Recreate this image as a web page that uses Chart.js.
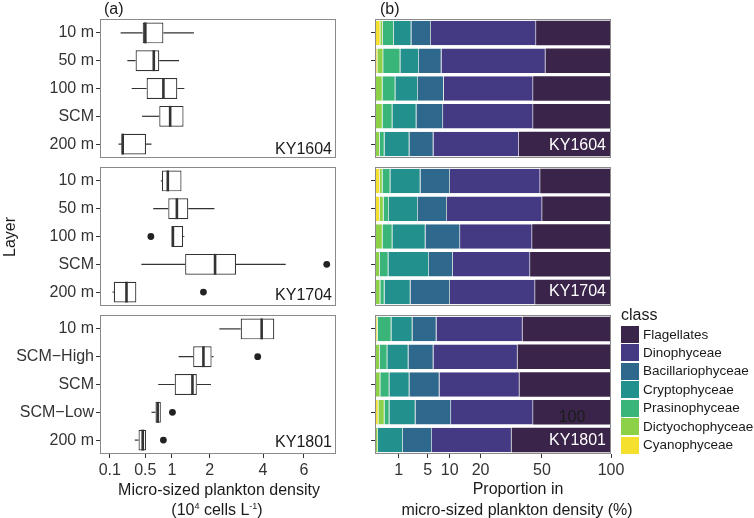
<!DOCTYPE html>
<html>
<head>
<meta charset="utf-8">
<script src="https://cdn.jsdelivr.net/npm/chart.js@4.4.1/dist/chart.umd.min.js"></script>
<style>
  body { margin: 0; background: #fff; }
  #wrap { position: relative; width: 754px; height: 518px; overflow: hidden; font-family: 'Liberation Sans', Arial, Helvetica, sans-serif; color: #1a1a1a; }
  canvas { position: absolute; left: 0; top: 0; }
  .t { position: absolute; white-space: nowrap; line-height: 1; font-size: 16px; }
  .key { position: absolute; width: 18px; height: 17px; }
</style>
</head>
<body>
<div id="wrap">
  <canvas id="a1" width="754" height="518"></canvas>
  <canvas id="a2" width="754" height="518"></canvas>
  <canvas id="a3" width="754" height="518"></canvas>
  <canvas id="b1" width="754" height="518"></canvas>
  <canvas id="b2" width="754" height="518"></canvas>
  <canvas id="b3" width="754" height="518"></canvas>
</div>
<script>
// layers per cruise
var layers1604 = ['10 m', '50 m', '100 m', 'SCM', '200 m'];
var layers1704 = ['10 m', '50 m', '100 m', 'SCM', '200 m'];
var layers1801 = ['10 m', 'SCM\u2212High', 'SCM', 'SCM\u2212Low', '200 m'];

// box stats: [lower whisker, q1, median, q3, upper whisker]  (10^4 cells/L)
var box1604 = [
    [0.19, 0.46, 0.50, 0.82, 1.54],
    [0.26, 0.36, 0.64, 0.74, 1.16],
    [0.31, 0.52, 0.82, 1.12, 1.29],
    [0.45, 0.74, 0.96, 1.27, 1.27],
    [0.17, 0.20, 0.21, 0.51, 0.60]
];
var box1704 = [
    [0.77, 0.79, 0.91, 1.22, 1.22],
    [0.63, 0.92, 1.11, 1.39, 2.15],
    [0.99, 0.99, 1.02, 1.26, 1.29],
    [0.44, 1.31, 2.17, 2.90, 5.06],
    [0.12, 0.13, 0.25, 0.37, 0.37]
];
var box1801 = [
    [2.31, 3.08, 3.94, 4.51, 4.51],
    [1.15, 1.52, 1.81, 2.06, 2.12],
    [0.72, 1.06, 1.50, 1.62, 2.04],
    [0.60, 0.67, 0.71, 0.77, 0.77],
    [0.35, 0.40, 0.46, 0.51, 0.51]
];

// outliers: [layer, value]
var out1604 = [];
var out1704 = [['100 m', 0.59], ['SCM', 7.29], ['200 m', 1.81]];
var out1801 = [['SCM\u2212High', 3.77], ['SCM\u2212Low', 1.01], ['200 m', 0.82]];

var densityTicks = [0.1, 0.5, 1, 2, 4, 6];
var propTicks = [1, 5, 10, 20, 50, 100];

// classes, stacked left to right
var classes = ['Cyanophyceae', 'Dictyochophyceae', 'Prasinophyceae', 'Cryptophyceae', 'Bacillariophyceae', 'Dinophyceae', 'Flagellates'];
var classColors = ['#f4e02d', '#8cd147', '#3ab57a', '#22908c', '#2f688d', '#443a84', '#3a2449'];

// proportions (%) per layer, in class order above
var prop1604 = [
    [0.05, 0.06, 0.53, 1.73, 3.26, 40.97, 53.40],
    [0.01, 0.11, 1.03, 2.32, 4.45, 44.28, 47.80],
    [0, 0.10, 0.64, 2.58, 5.16, 36.42, 55.10],
    [0, 0.10, 0.44, 2.53, 5.24, 36.59, 55.10],
    [0, 0.04, 0.12, 1.96, 4.00, 31.08, 62.80]
];
var prop1704 = [
    [0.04, 0.06, 0.32, 3.28, 6.40, 38.90, 51.00],
    [0.04, 0.09, 0.22, 2.97, 5.99, 40.89, 49.80],
    [0, 0.10, 0.44, 4.02, 8.43, 31.36, 55.65],
    [0, 0.04, 0.28, 4.91, 5.67, 32.30, 56.80],
    [0, 0.05, 0.11, 2.09, 7.85, 35.96, 53.94]
];
var prop1801 = [
    [0.01, 0.005, 0.465, 2.03, 4.26, 32.33, 60.90],
    [0, 0.04, 0.23, 1.73, 4.12, 30.38, 63.50],
    [0, 0.05, 0.32, 1.75, 5.33, 30.05, 62.50],
    [0.02, 0.14, 0.21, 2.56, 7.45, 34.52, 55.10],
    [0, 0.015, 0, 1.385, 4.43, 27.67, 66.50]
];

Chart.defaults.font.family = "'Liberation Sans', Arial, Helvetica, sans-serif";
Chart.defaults.font.size = 16;
Chart.defaults.color = '#333';

// square-root axis
class SqrtScale extends Chart.LinearScale {
    getPixelForValue(value) {
        if (value == null || isNaN(value)) return NaN;
        var a = Math.sqrt(Math.max(this.min, 0)), b = Math.sqrt(this.max);
        return this.getPixelForDecimal((Math.sqrt(Math.max(value, 0)) - a) / (b - a));
    }
    getValueForPixel(pixel) {
        var a = Math.sqrt(Math.max(this.min, 0)), b = Math.sqrt(this.max);
        var s = a + this.getDecimalForPixel(pixel) * (b - a);
        return s * s;
    }
}
SqrtScale.id = 'sqrt';
SqrtScale.defaults = Chart.LinearScale.defaults;
Chart.register(SqrtScale);

var frame = {
    id: 'frame',
    afterDatasetsDraw: function (chart) {
        var a = chart.chartArea, ctx = chart.ctx;
        ctx.save();
        ctx.strokeStyle = '#8a8a8a';
        ctx.lineWidth = 1;
        ctx.strokeRect(a.left + 0.5, a.top + 0.5, a.right - a.left - 1, a.bottom - a.top - 1);
        ctx.restore();
    }
};

function boxLines(rows) {
    return {
        id: 'boxLines',
        beforeDatasetsDraw: function (chart) {
            var x = chart.scales.x, y = chart.scales.y, ctx = chart.ctx;
            ctx.save();
            ctx.strokeStyle = '#333';
            ctx.lineWidth = 1.2;
            rows.forEach(function (r, i) {
                var py = y.getPixelForValue(i);
                ctx.beginPath();
                ctx.moveTo(x.getPixelForValue(r[0]), py);
                ctx.lineTo(x.getPixelForValue(r[1]), py);
                ctx.moveTo(x.getPixelForValue(r[3]), py);
                ctx.lineTo(x.getPixelForValue(r[4]), py);
                ctx.stroke();
            });
            ctx.restore();
        },
        afterDatasetsDraw: function (chart) {
            var x = chart.scales.x, y = chart.scales.y, ctx = chart.ctx;
            var bars = chart.getDatasetMeta(0).data;
            ctx.save();
            ctx.strokeStyle = '#333';
            ctx.lineWidth = 2.6;
            rows.forEach(function (r, i) {
                var py = y.getPixelForValue(i), h = bars[i].height / 2;
                var px = x.getPixelForValue(r[2]);
                ctx.beginPath();
                ctx.moveTo(px, py - h);
                ctx.lineTo(px, py + h);
                ctx.stroke();
            });
            ctx.restore();
        }
    };
}

function yAxis(labelsOn, width) {
    return {
        type: 'category',
        offset: true,
        border: { display: false },
        grid: { display: true, drawOnChartArea: false, offset: false, drawTicks: true, tickLength: 4, color: '#333' },
        ticks: { display: labelsOn, autoSkip: false, padding: 2, color: '#333', font: { size: 16 } },
        afterFit: function (s) { s.width = width; }
    };
}

function xAxis(showX, min, max, vals) {
    return {
        type: 'sqrt',
        min: min,
        max: max,
        bounds: 'data',
        display: showX,
        border: { display: false },
        grid: { display: true, drawOnChartArea: false, drawTicks: true, tickLength: 4, color: '#333' },
        ticks: { autoSkip: false, maxRotation: 0, padding: 3, color: '#333', font: { size: 16 },
            callback: function (v) { return String(v); } },
        afterBuildTicks: function (s) { s.ticks = vals.map(function (v) { return { value: v }; }); },
        afterFit: function (s) { s.height = showX ? 30 : 0; }
    };
}

function makeBox(id, layers, rows, outs, top, bottom, showX) {
    new Chart(document.getElementById(id), {
        type: 'bar',
        data: {
            labels: layers,
            datasets: [{
                type: 'bar',
                data: rows.map(function (r) { return [r[1], r[3]]; }),
                backgroundColor: '#ffffff',
                borderColor: '#333',
                borderWidth: 1.2,
                borderSkipped: false,
                barPercentage: 0.75,
                categoryPercentage: 1
            }, {
                type: 'scatter',
                indexAxis: 'y',
                data: outs.map(function (o) { return { x: o[1], y: o[0] }; }),
                pointRadius: 3.4,
                backgroundColor: '#222',
                borderWidth: 0
            }]
        },
        options: {
            indexAxis: 'y',
            responsive: false,
            animation: false,
            devicePixelRatio: 1,
            layout: { padding: { left: 0, right: 754 - 336, top: top, bottom: bottom } },
            plugins: { legend: { display: false }, tooltip: { enabled: false } },
            scales: {
                x: xAxis(showX, 0.0437, 7.85, densityTicks),
                y: yAxis(true, 100)
            }
        },
        plugins: [boxLines(rows), frame]
    });
}

function makeProp(id, layers, rows, top, bottom, showX) {
    var sets = classes.map(function (c, k) {
        return {
            label: c,
            data: rows.map(function (r) { return r[k]; }),
            backgroundColor: classColors[k],
            borderColor: 'rgba(215,215,215,0.9)',
            borderWidth: k < classes.length - 1 ? { right: 0.7, left: 0, top: 0, bottom: 0 } : 0,
            borderSkipped: false,
            barPercentage: 0.88,
            categoryPercentage: 1
        };
    });
    var x = xAxis(showX, 0, 100, propTicks);
    x.stacked = true;
    var y = yAxis(false, 5);
    y.stacked = true;
    new Chart(document.getElementById(id), {
        type: 'bar',
        data: { labels: layers, datasets: sets },
        options: {
            indexAxis: 'y',
            responsive: false,
            animation: false,
            devicePixelRatio: 1,
            layout: { padding: { left: 370, right: 754 - 611, top: top, bottom: bottom } },
            plugins: { legend: { display: false }, tooltip: { enabled: false } },
            scales: { x: x, y: y }
        },
        plugins: [frame]
    });
}

makeBox('a1', layers1604, box1604, out1604, 19, 518 - 158, false);
makeBox('a2', layers1704, box1704, out1704, 167, 518 - 306, false);
makeBox('a3', layers1801, box1801, out1801, 315, 518 - 454 - 30, true);
makeProp('b1', layers1604, prop1604, 19, 518 - 158, false);
makeProp('b2', layers1704, prop1704, 167, 518 - 306, false);
makeProp('b3', layers1801, prop1801, 315, 518 - 454 - 30, true);

// texts
var wrap = document.getElementById('wrap');
function txt(s, x, y, o) {
    o = o || {};
    var d = document.createElement('div');
    d.className = 't';
    d.innerHTML = s;
    if (o.size) d.style.fontSize = o.size + 'px';
    if (o.color) d.style.color = o.color;
    var tx = o.align === 'right' ? '-100%' : o.align === 'left' ? '0' : '-50%';
    d.style.left = x + 'px';
    d.style.top = y + 'px';
    d.style.transform = 'translate(' + tx + ',-50%)' + (o.rot ? ' rotate(' + o.rot + 'deg)' : '');
    wrap.appendChild(d);
    return d;
}

txt('(a)', 104, 9, { align: 'left' });
txt('(b)', 380, 9, { align: 'left' });
txt('Layer', 10, 237, { rot: -90 });

txt('KY1604', 332, 149, { align: 'right' });
txt('KY1704', 332, 295, { align: 'right' });
txt('KY1801', 332, 442, { align: 'right' });
txt('KY1604', 606, 145, { align: 'right', color: '#fff' });
txt('KY1704', 606, 291, { align: 'right', color: '#fff' });
txt('KY1801', 606, 440, { align: 'right', color: '#fff' });
txt('100', 572, 417, { color: '#1c1c1c' });

txt('Micro-sized plankton density', 219, 490);
txt('(10<sup style="font-size:9px;vertical-align:6px">4</sup> cells L<sup style="font-size:9px;vertical-align:6px">-1</sup>)', 217, 510);
txt('Proportion in', 518, 489);
txt('micro-sized plankton density (%)', 517, 510);

// legend
txt('class', 621, 315, { align: 'left' });
classes.slice().reverse().forEach(function (c, i) {
    var k = document.createElement('div');
    k.className = 'key';
    k.style.left = '621px';
    k.style.top = (326 + i * 18.45) + 'px';
    k.style.background = classColors[classes.length - 1 - i];
    wrap.appendChild(k);
    txt(c, 643, 334.5 + i * 18.45, { align: 'left', size: 13.5 });
});
</script>
</body>
</html>
